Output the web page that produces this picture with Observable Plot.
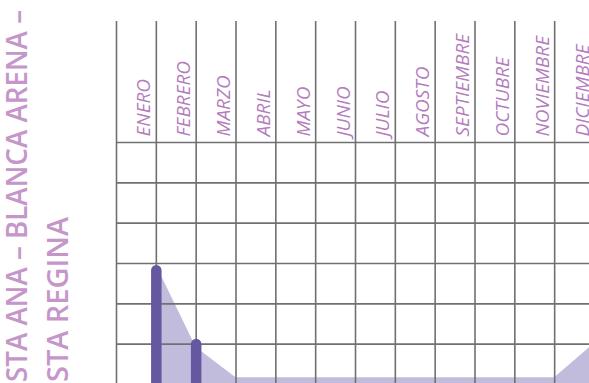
<!DOCTYPE html>
<html>
<head>
<meta charset="utf-8">
<script src="https://cdn.jsdelivr.net/npm/d3@7"></script>
<script src="https://cdn.jsdelivr.net/npm/@observablehq/plot@0.6"></script>
<style>
  html, body { margin: 0; padding: 0; background: #fff; }
  #chart { width: 589px; height: 383px; overflow: hidden; }
</style>
</head>
<body>
<div id="chart"></div>
<script>
// Month categories (x positions are the vertical grid lines 1..12)
const months = ["ENERO", "FEBRERO", "MARZO", "ABRIL", "MAYO", "JUNIO",
  "JULIO", "AGOSTO", "SEPTIEMBRE", "OCTUBRE", "NOVIEMBRE", "DICIEMBRE"];
// Shaded area series (grid units)
const areaValues = [2.95, 0.92, 0.17, 0.17, 0.17, 0.17, 0.17, 0.17, 0.17, 0.17, 0.17, 1.02];
// Dark bars
const barMonths = ["ENERO", "FEBRERO"];
const barValues = [2.82, 0.99];
// Grid
const gridRows = [0, 1, 2, 3, 4, 5, 6];
const gridCols = [0, 1, 2, 3, 4, 5, 6, 7, 8, 9, 10, 11, 12];
const titleLines = ["STA ANA – BLANCA ARENA –", "STA REGINA"];

const areaData = months.map((m, i) => ({month: m, i: i + 1, v: areaValues[i]}));
const barData = barMonths.map((m, k) => ({month: m, i: months.indexOf(m) + 1, v: barValues[k]}));

const grid = "#707070";
const labelColor = "#b37cbd";

const plot = Plot.plot({
  width: 589,
  height: 383,
  margin: 0,
  style: {background: "#fff", overflow: "hidden"},
  x: {type: "linear", domain: [0, 12], range: [116, 594], axis: null},
  y: {type: "linear", domain: [0, 9], range: [384, 21], axis: null},
  marks: [
    Plot.areaY(areaData, {x: "i", y: "v", fill: "#c1bcdb"}),
    Plot.ruleY(gridRows.slice(1), {x1: 0, x2: 13, stroke: grid, strokeWidth: 1.6}),
    Plot.ruleX(gridCols, {y1: 0, y2: 9, stroke: grid, strokeWidth: 1.6}),
    Plot.ruleX(barData, {x: "i", y1: 0, y2: "v", stroke: "#6558a0", strokeWidth: 10.5, strokeLinecap: "round"}),
    Plot.text(months, {
      x: (d, i) => i + 1, y: 6, text: d => d,
      rotate: -90, textAnchor: "start", lineAnchor: "bottom",
      dx: -6, dy: -6, fontSize: 19, fontStyle: "italic", fontWeight: 400,
      fontFamily: "Open Sans", fill: labelColor
    })
  ]
});

const svg = d3.select(plot);
const titleSpecs = [{bx: 27, len: 372}, {bx: 68, len: 165}];
titleLines.forEach((t, k) => {
  svg.append("text")
    .attr("transform", `translate(${titleSpecs[k].bx},382) rotate(-90)`)
    .attr("text-anchor", "start")
    .attr("font-family", "Open Sans")
    .attr("font-size", 28)
    .attr("font-weight", 600)
    .attr("fill", "#c596c9")
    .attr("textLength", titleSpecs[k].len)
    .attr("lengthAdjust", "spacingAndGlyphs")
    .text(t);
});

document.getElementById("chart").appendChild(plot);
</script>
</body>
</html>
